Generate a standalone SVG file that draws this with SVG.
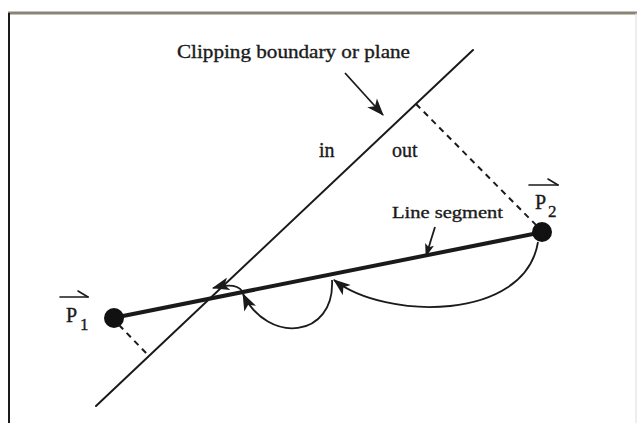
<svg xmlns="http://www.w3.org/2000/svg" width="637" height="423" viewBox="0 0 637 423">
<style>
.t{font-family:"Liberation Serif","Times New Roman",serif;fill:#1a1a1a;stroke:#1a1a1a;stroke-width:0.35;}
.ln{stroke:#1a1a1a;fill:none;stroke-linecap:round;}
.dash{stroke:#1a1a1a;fill:none;stroke-width:2;stroke-dasharray:6 5;}
.arc{stroke:#1a1a1a;fill:none;stroke-width:1.8;}
</style>
<defs>
<marker id="ah" viewBox="0 0 16 12" refX="15" refY="6" markerWidth="18" markerHeight="13" markerUnits="userSpaceOnUse" orient="auto">
<path d="M0,0 L16,6 L0,12 L4,6 Z" fill="#1a1a1a"/>
</marker>
<marker id="ahs" viewBox="0 0 14 10" refX="13" refY="5" markerWidth="13" markerHeight="10" markerUnits="userSpaceOnUse" orient="auto">
<path d="M0,0 L14,5 L0,10 L3,5 Z" fill="#1a1a1a"/>
</marker>
</defs>
<rect x="0" y="0" width="637" height="423" fill="#fff"/>
<g id="frame">
<line x1="8" y1="13" x2="637" y2="13" stroke="#8a8478" stroke-width="3"/>
<line x1="9" y1="13" x2="9" y2="423" stroke="#1a1a1a" stroke-width="2"/>
<line x1="636" y1="13" x2="636" y2="423" stroke="#ddd" stroke-width="1"/>
</g>
<g id="clip-boundary">
<line class="ln" x1="96" y1="406" x2="473" y2="50" stroke-width="2"/>
<text class="t" x="177" y="58" font-size="19" textLength="233" lengthAdjust="spacingAndGlyphs">Clipping boundary or plane</text>
<text class="t" x="319" y="157" font-size="20">in</text>
<text class="t" x="392" y="157" font-size="20">out</text>
</g>
<g id="segment">
<line class="ln" x1="113" y1="318" x2="543" y2="232" stroke-width="4"/>
<text class="t" x="392" y="218" font-size="17" textLength="111" lengthAdjust="spacingAndGlyphs">Line segment</text>
</g>
<g id="p1">
<circle cx="114" cy="318" r="10" fill="#111"/>
<line class="ln" x1="60" y1="297" x2="88" y2="297" stroke-width="1.6"/>
<line class="ln" x1="88" y1="297" x2="78" y2="291" stroke-width="1.6"/>
<text class="t" x="66" y="322" font-size="20">P</text>
<text class="t" x="80" y="330" font-size="17">1</text>
</g>
<g id="p2">
<circle cx="542" cy="232" r="10" fill="#111"/>
<line class="ln" x1="529" y1="185" x2="558" y2="185" stroke-width="1.6"/>
<line class="ln" x1="558" y1="185" x2="548" y2="179" stroke-width="1.6"/>
<text class="t" x="535" y="209" font-size="20">P</text>
<text class="t" x="548" y="217" font-size="17">2</text>
</g>
<g id="connectors">
<line class="dash" x1="416" y1="104" x2="537" y2="226"/>
<line class="dash" x1="119" y1="325" x2="147" y2="354"/>
<line class="arc" x1="345" y1="73" x2="383" y2="115" marker-end="url(#ah)"/>
<line class="arc" x1="435" y1="227" x2="426" y2="256" stroke-width="1.2" marker-end="url(#ahs)"/>
<path class="arc" d="M538,242 C525,322 385,320 334,280" marker-end="url(#ah)"/>
<path class="arc" d="M332,280 C335,338 268,345 243,294" marker-end="url(#ah)"/>
<path class="arc" d="M242,291 C238,285 228,284 213,288" marker-end="url(#ah)"/>
</g>
</svg>
